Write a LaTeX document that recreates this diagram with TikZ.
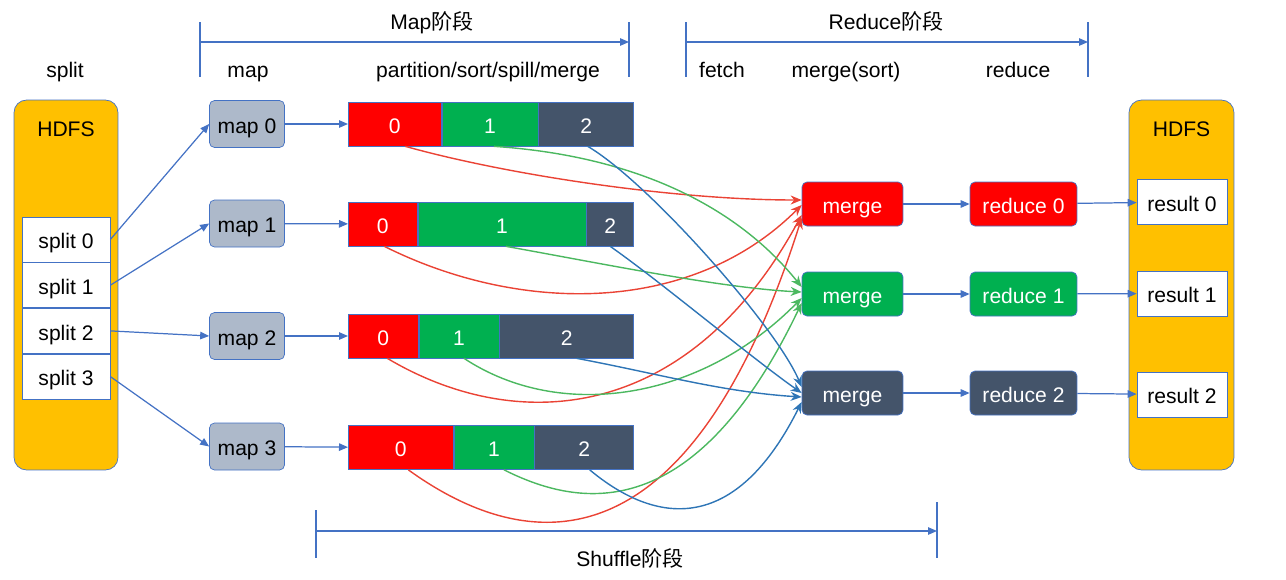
\documentclass[tikz,border=0pt]{standalone}
\usepackage{fontspec}
\setmainfont{Liberation Sans}
\newfontfamily\cjkfont{Noto Sans CJK SC}
\usetikzlibrary{arrows.meta, positioning}

\definecolor{c_red}{HTML}{FF0000}
\definecolor{c_green}{HTML}{00B050}
\definecolor{c_dark}{HTML}{44546A}
\definecolor{c_gray}{HTML}{ADB9CA}
\definecolor{c_orange}{HTML}{FFC000}
\definecolor{c_line}{HTML}{4472C4}
\definecolor{c_cred}{HTML}{EA4335}
\definecolor{c_cgreen}{HTML}{4CB860}
\definecolor{c_cblue}{HTML}{2E75B6}

\begin{document}
\begin{tikzpicture}[
    x=0.02cm, y=-0.02cm,
    every node/.style={font=\fontsize{12}{14}\selectfont, text height=11pt, text depth=0.6pt},
    arrow/.style={c_line, line width=0.7pt, -{Triangle[length=1.8mm, width=1.5mm]}},
    flow/.style={line width=0.8pt, -{Stealth[length=2.2mm, width=1.8mm]}},
    phase_line/.style={c_line, line width=0.6pt},
    hdfs_block/.style={
            rectangle,
            rounded corners=2.5mm,
            draw=c_line,
            fill=c_orange,
            minimum width=2.08cm,
            minimum height=7.4cm
        },
    white_block/.style={
            rectangle,
            draw=c_line,
            fill=white,
            minimum height=0.9cm
        },
    map_block/.style={
            rectangle,
            rounded corners=1mm,
            draw=c_line,
            fill=c_gray,
            minimum width=1.5cm,
            minimum height=0.94cm
        },
    seg/.style={
            rectangle,
            draw=c_line,
            text=white,
            inner sep=0pt,
            minimum height=0.88cm
        },
    task_block/.style={
            rectangle,
            rounded corners=1mm,
            draw=c_line,
            text=white,
            minimum height=0.88cm
        },
    ]
    \useasboundingbox (0,0) rectangle (1286,579);

    % --- Phases ---
    \node (map_phase) at (432,20) {Map{\cjkfont 阶段}};
    \node (reduce_phase) at (886,20) {Reduce{\cjkfont 阶段}};
    \node (shuffle_phase) at (630,557) {Shuffle{\cjkfont 阶段}};
    \coordinate (map_start) at (200,42);
    \coordinate (map_end) at (629,42);
    \coordinate (reduce_start) at (686,42);
    \coordinate (reduce_end) at (1088,42);
    \coordinate (shuffle_start) at (316,531);
    \coordinate (shuffle_end) at (937,531);
    \draw[phase_line] (200,22) -- (200,77);
    \draw[phase_line] (629,22) -- (629,77);
    \draw[phase_line] (686,22) -- (686,77);
    \draw[phase_line] (1088,22) -- (1088,77);
    \draw[phase_line] (316,510) -- (316,558);
    \draw[phase_line] (937,502) -- (937,558);
    \draw[arrow] (map_start) -- (map_end);
    \draw[arrow] (reduce_start) -- (reduce_end);
    \draw[arrow] (shuffle_start) -- (shuffle_end);

    \node (split_label) at (65,68) {split};
    \node (map_label) at (248,68) {map};
    \node (psm_label) at (488,68) {partition/sort/spill/merge};
    \node (fetch_label) at (722,68) {fetch};
    \node (merge_label) at (846,68) {merge(sort)};
    \node (reduce_label) at (1018,68) {reduce};

    % --- Input ---
    \node (hdfs_in) [hdfs_block] at (66,285) {};
    \node at (66,127) {HDFS};
    \node (split_0) [white_block, minimum width=1.76cm] at (66,239.5) {split 0};
    \node (split_1) [white_block, minimum width=1.76cm, below=0pt of split_0] {split 1};
    \node (split_2) [white_block, minimum width=1.76cm, below=0pt of split_1] {split 2};
    \node (split_3) [white_block, minimum width=1.76cm, below=0pt of split_2] {split 3};

    % --- Map ---
    \node (map_0) [map_block] at (247,124) {map 0};
    \node (map_1) [map_block] at (247,223.5) {map 1};
    \node (map_2) [map_block] at (247,336) {map 2};
    \node (map_3) [map_block] at (247,446.5) {map 3};

    % --- Partitions ---
    \node (b0_red) [seg, fill=c_red, minimum width=1.86cm, anchor=west] at (348,124) {0};
    \node (b0_green) [seg, fill=c_green, minimum width=1.92cm, right=0pt of b0_red] {1};
    \node (b0_dark) [seg, fill=c_dark, minimum width=1.9cm, right=0pt of b0_green] {2};

    \node (b1_red) [seg, fill=c_red, minimum width=1.38cm, anchor=west] at (348,224) {0};
    \node (b1_green) [seg, fill=c_green, minimum width=3.36cm, right=0pt of b1_red] {1};
    \node (b1_dark) [seg, fill=c_dark, minimum width=0.94cm, right=0pt of b1_green] {2};

    \node (b2_red) [seg, fill=c_red, minimum width=1.4cm, anchor=west] at (348,336) {0};
    \node (b2_green) [seg, fill=c_green, minimum width=1.6cm, right=0pt of b2_red] {1};
    \node (b2_dark) [seg, fill=c_dark, minimum width=2.68cm, right=0pt of b2_green] {2};

    \node (b3_red) [seg, fill=c_red, minimum width=2.1cm, anchor=west] at (348,447.5) {0};
    \node (b3_green) [seg, fill=c_green, minimum width=1.6cm, right=0pt of b3_red] {1};
    \node (b3_dark) [seg, fill=c_dark, minimum width=1.98cm, right=0pt of b3_green] {2};

    % --- Reduce ---
    \node (merge_0) [task_block, fill=c_red, minimum width=2.02cm] at (852.5,204) {merge};
    \node (merge_1) [task_block, fill=c_green, minimum width=2.02cm] at (852.5,294) {merge};
    \node (merge_2) [task_block, fill=c_dark, minimum width=2.02cm] at (852.5,393) {merge};
    \node (reduce_0) [task_block, fill=c_red, minimum width=2.14cm] at (1023.5,204) {reduce 0};
    \node (reduce_1) [task_block, fill=c_green, minimum width=2.14cm] at (1023.5,294) {reduce 1};
    \node (reduce_2) [task_block, fill=c_dark, minimum width=2.14cm] at (1023.5,393) {reduce 2};

    % --- Output ---
    \node (hdfs_out) [hdfs_block, minimum width=2.1cm] at (1181.5,285) {};
    \node at (1181.5,127) {HDFS};
    \node (result_0) [white_block, minimum width=1.8cm] at (1182,202) {result 0};
    \node (result_1) [white_block, minimum width=1.8cm] at (1182,293.5) {result 1};
    \node (result_2) [white_block, minimum width=1.8cm] at (1182,394.5) {result 2};

    % --- Arrows ---
    \draw[arrow] (split_0.east) -- (map_0.west);
    \draw[arrow] (split_1.east) -- (map_1.west);
    \draw[arrow] (split_2.east) -- (map_2.west);
    \draw[arrow] (split_3.east) -- (map_3.west);
    \draw[arrow] (map_0) -- (b0_red);
    \draw[arrow] (map_1) -- (b1_red);
    \draw[arrow] (map_2) -- (b2_red);
    \draw[arrow] (map_3) -- (b3_red);
    \draw[arrow] (merge_0) -- (reduce_0);
    \draw[arrow] (merge_1) -- (reduce_1);
    \draw[arrow] (merge_2) -- (reduce_2);
    \draw[arrow] (reduce_0) -- (result_0);
    \draw[arrow] (reduce_1) -- (result_1);
    \draw[arrow] (reduce_2) -- (result_2);

    % --- Shuffle ---
    \draw[flow, c_cred] ([xshift=0.21cm]b0_red.south) .. controls +(100,28) and +(-130,0) .. ([yshift=0.08cm]merge_0.west);
    \draw[flow, c_cred] ([xshift=0.03cm]b1_red.south) .. controls +(136,68) and +(-110,110) .. ([yshift=-0.02cm]merge_0.west);
    \draw[flow, c_cred] ([xshift=0.08cm]b2_red.south) .. controls +(133,79) and +(-111,205) .. ([yshift=-0.22cm]merge_0.west);
    \draw[flow, c_cred] ([xshift=0.15cm]b3_red.south) .. controls +(122,88) and +(-112,352) .. ([yshift=-0.28cm]merge_0.west);

    \draw[flow, c_cgreen] ([xshift=0.08cm]b0_green.south) .. controls +(150,10) and +(-60,-75) .. ([yshift=0.14cm]merge_1.west);
    \draw[flow, c_cgreen] ([xshift=0.08cm]b1_green.south) .. controls +(100,18) and +(-80,-4) .. ([yshift=0.04cm]merge_1.west);
    \draw[flow, c_cgreen] ([xshift=0.1cm]b2_green.south) .. controls +(97,64) and +(-100,102) .. ([yshift=-0.08cm]merge_1.west);
    \draw[flow, c_cgreen] ([xshift=0.2cm]b3_green.south) .. controls +(70,35) and +(-110,230) .. ([yshift=-0.18cm]merge_1.west);

    \draw[flow, c_cblue] ([xshift=0.03cm]b0_dark.south) .. controls +(60,35) and +(-25,-60) .. ([yshift=0.12cm]merge_2.west);
    \draw[flow, c_cblue] (b1_dark.south) .. controls +(50,35) and +(-50,-35) .. (merge_2.west);
    \draw[flow, c_cblue] ([xshift=0.2cm]b2_dark.south) .. controls +(80,15) and +(-80,-5) .. ([yshift=-0.08cm]merge_2.west);
    \draw[flow, c_cblue] ([xshift=0.11cm]b3_dark.south) .. controls +(60,50) and +(-70,140) .. ([yshift=-0.18cm]merge_2.west);

\end{tikzpicture}
\end{document}
